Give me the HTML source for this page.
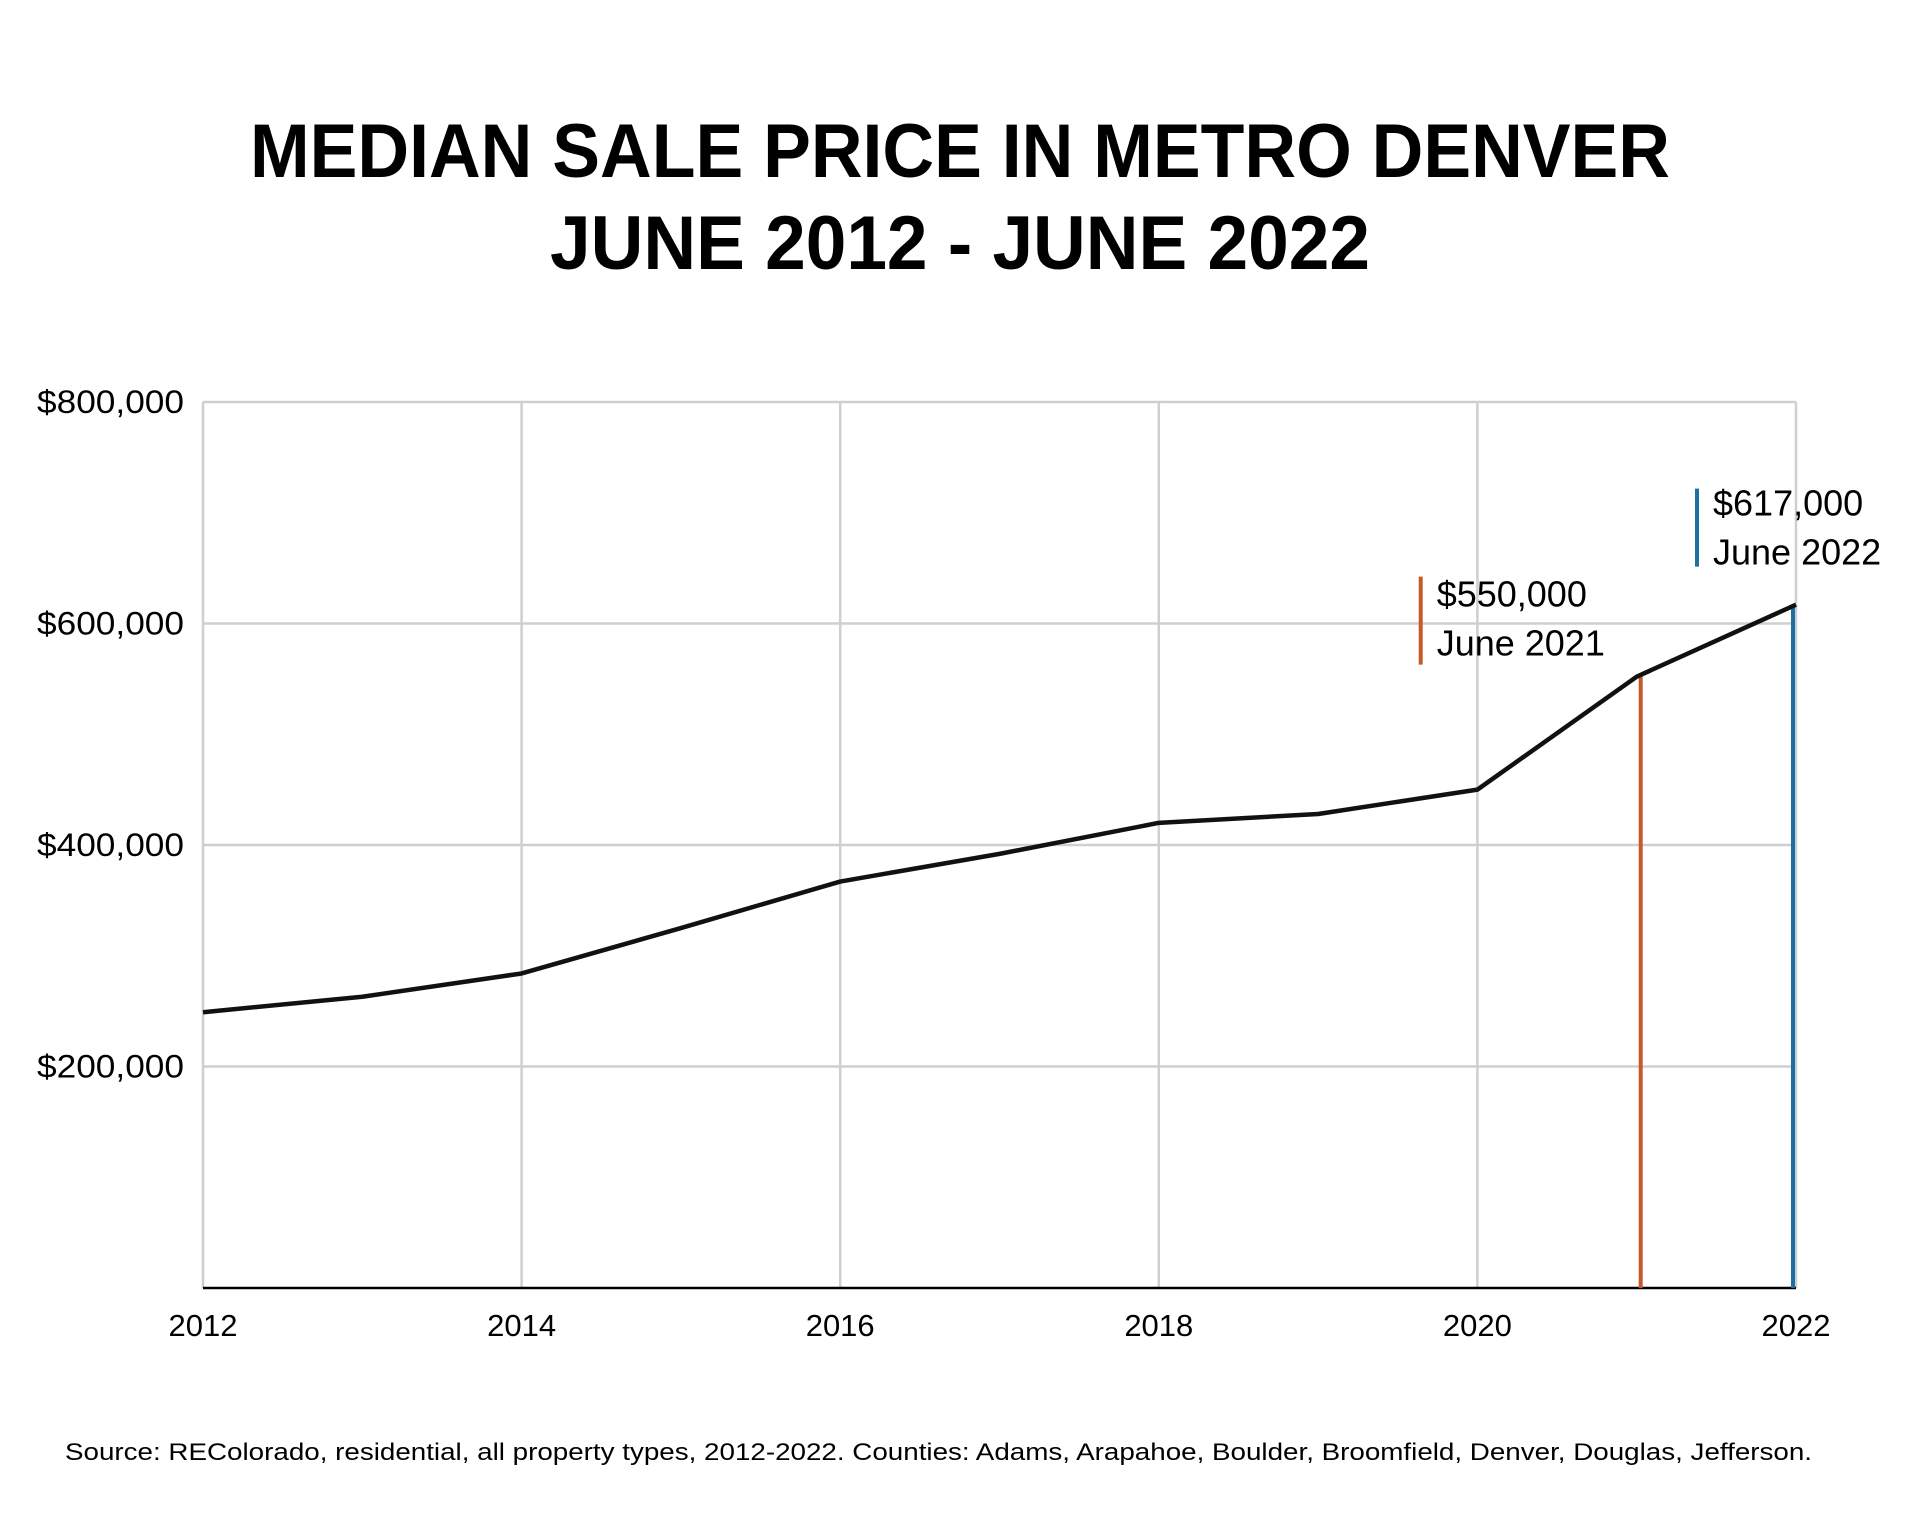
<!DOCTYPE html>
<html><head><meta charset="utf-8"><style>
html,body{margin:0;padding:0;background:#fff;}
svg{display:block;font-family:"Liberation Sans",sans-serif;}
</style></head><body>
<svg id="chart" width="1920" height="1513" viewBox="0 0 1920 1513" xmlns="http://www.w3.org/2000/svg">
<text x="960" y="177" text-anchor="middle" font-size="76" font-weight="bold" textLength="1420" lengthAdjust="spacingAndGlyphs">MEDIAN SALE PRICE IN METRO DENVER</text>
<text x="960" y="269" text-anchor="middle" font-size="76" font-weight="bold" textLength="820" lengthAdjust="spacingAndGlyphs">JUNE 2012 - JUNE 2022</text>
<g id="grid"></g><g id="marks"></g><g id="labels"></g>
<text x="65" y="1460" font-size="24" textLength="1747" lengthAdjust="spacingAndGlyphs">Source: REColorado, residential, all property types, 2012-2022. Counties: Adams, Arapahoe, Boulder, Broomfield, Denver, Douglas, Jefferson.</text>
</svg>
<script>
const years = [2012,2013,2014,2015,2016,2017,2018,2019,2020,2021,2022];
const prices = [249000,263000,284000,325000,367000,392000,420000,428000,450000,552000,617000];
const yTicks = [200000,400000,600000,800000];
const yTickLabels = ["$200,000","$400,000","$600,000","$800,000"];
const xTicks = [2012,2014,2016,2018,2020,2022];
const annoYears = [2021,2022];
const annoValues = ["$550,000","$617,000"];
const annoDates = ["June 2021","June 2022"];

const L=203,R=1796,T=402,B=1288;
const xs=y=>L+(y-2012)/(2022-2012)*(R-L);
const ys=v=>B-v/800000*(B-T);
const NS="http://www.w3.org/2000/svg";
function mk(tag,attrs,parent){const e=document.createElementNS(NS,tag);for(const k in attrs)e.setAttribute(k,attrs[k]);parent.appendChild(e);return e;}
const grid=document.getElementById('grid'),marks=document.getElementById('marks'),labels=document.getElementById('labels');

yTicks.forEach((v,i)=>{
  const g=mk('line',{x1:L,x2:R,y1:ys(v),y2:ys(v),stroke:'#cfcfcf','stroke-width':2.5},grid);
  
  
  const t=mk('text',{x:184,y:ys(v)+11,'text-anchor':'end','font-size':32,textLength:147,lengthAdjust:'spacingAndGlyphs'},labels);
  t.textContent=yTickLabels[i];
  
  
});
xTicks.forEach(y=>{
  const g=mk('line',{x1:xs(y),x2:xs(y),y1:T,y2:B,stroke:'#cfcfcf','stroke-width':2.5},grid);
  
  
  const t=mk('text',{x:xs(y),y:1336,'text-anchor':'middle','font-size':31},labels);
  t.textContent=String(y);
  
  
});
const ax=mk('line',{x1:L,x2:R,y1:B,y2:B,stroke:'#000','stroke-width':2.5},grid);



const colors=['#c4592a','#1f6fa0'];
const offs=[100,116], bh=[88,78], b1=[30,27], b2=[79,76], bxo=[216,99], lxo=[-4,3];
annoYears.forEach((yr,i)=>{
  const idx=years.indexOf(yr);
  const v=prices[idx];
  const ln=mk('line',{x1:xs(yr)-lxo[i],x2:xs(yr)-lxo[i],y1:ys(v),y2:B,stroke:colors[i],'stroke-width':4},marks);
  
  
  const top=ys(v)-offs[i];
  const bx=xs(yr)-bxo[i];
  const b=mk('line',{x1:bx,x2:bx,y1:top,y2:top+bh[i],stroke:colors[i],'stroke-width':4},labels);
  
  
  const t1=mk('text',{x:bx+16,y:top+b1[i],'font-size':36},labels);
  t1.textContent=annoValues[i];
  
  
  const t2=mk('text',{x:bx+16,y:top+b2[i],'font-size':36},labels);
  t2.textContent=annoDates[i];
  
  
});

const d=years.map((y,i)=>(i?'L':'M')+xs(y)+','+ys(prices[i])).join(' ');
const p=mk('path',{d:d,fill:'none',stroke:'#111','stroke-width':4.5,'stroke-linejoin':'round'},marks);


</script>
</body></html>
